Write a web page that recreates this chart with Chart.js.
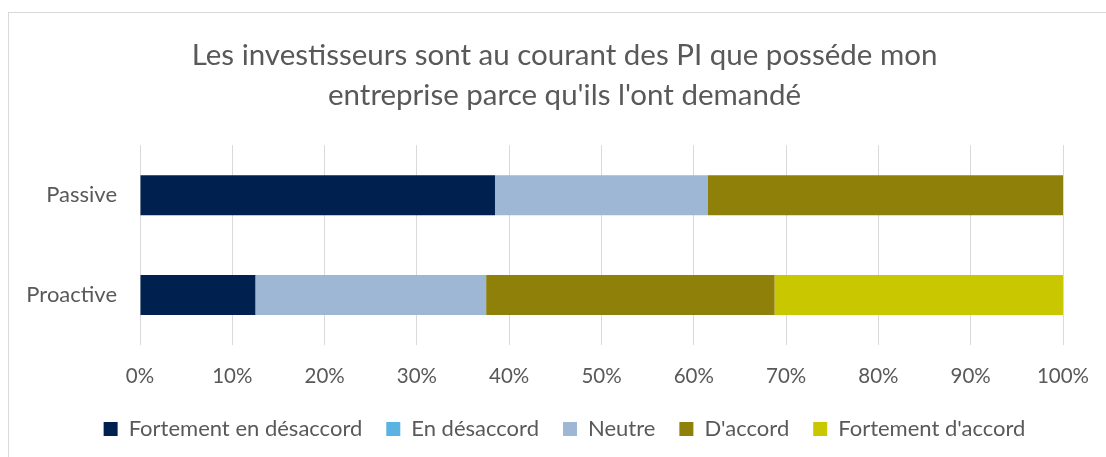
<!DOCTYPE html>
<html>
<head>
<meta charset="utf-8">
<script src="https://cdn.jsdelivr.net/npm/chart.js@4"></script>
<style>
  html, body { margin: 0; padding: 0; background: #fff; }
  #wrap { position: relative; width: 1106px; height: 457px; overflow: hidden; }
  #frame { position: absolute; left: 8px; top: 12px; width: 1200px; height: 600px; border: 1px solid #d9d9d9; box-sizing: border-box; }
  #chart { position: absolute; left: 0; top: 0; }
</style>
</head>
<body>
<div id="wrap">
  <div id="frame"></div>
  <canvas id="chart" width="1106" height="457"></canvas>
</div>
<script>
// données (en %)
const categories = ["Passive", "Proactive"];
const seriesNames = ["Fortement en désaccord", "En désaccord", "Neutre", "D'accord", "Fortement d'accord"];
const fortementDesaccord = [38.46, 12.5];
const desaccord = [0, 0];
const neutre = [23.08, 25];
const accord = [38.46, 31.25];
const fortementAccord = [0, 31.25];
const xTicks = [0, 10, 20, 30, 40, 50, 60, 70, 80, 90, 100];
const couleurs = ["#002050", "#5bb3e1", "#9db7d5", "#8f800a", "#c9c800"];

const TXT = "#595959";
const FONT = "Lato, 'Open Sans', sans-serif";

const valeurs = [fortementDesaccord, desaccord, neutre, accord, fortementAccord];
const datasets = seriesNames.map((nom, i) => ({
  label: nom,
  data: valeurs[i],
  backgroundColor: couleurs[i],
  borderWidth: 0,
  barPercentage: 0.4,
  categoryPercentage: 1,
}));

new Chart(document.getElementById("chart").getContext("2d"), {
  type: "bar",
  data: { labels: categories, datasets },
  options: {
    indexAxis: "y",
    responsive: false,
    animation: false,
    // marge droite négative : recentre titre et légende comme dans l'original
    layout: { padding: { left: 20, right: -3, top: 0, bottom: 7 } },
    scales: {
      x: {
        stacked: true,
        min: 0,
        max: 100,
        afterBuildTicks: (s) => { s.ticks = xTicks.map((v) => ({ value: v })); },
        ticks: { color: TXT, font: { family: FONT, size: 20.5 }, padding: 19, callback: (v) => v + "%" },
        grid: { color: "#d9d9d9", lineWidth: 1, drawTicks: false },
        border: { display: false },
        afterFit: (s) => { s.height = 49; s.paddingRight = 43; s.paddingLeft = 0; },
      },
      y: {
        stacked: true,
        ticks: { color: TXT, font: { family: FONT, size: 22 }, padding: 23 },
        grid: { display: false, drawTicks: false },
        border: { display: false },
        afterFit: (s) => { s.width = 120; },
      },
    },
    plugins: {
      title: {
        display: true,
        text: ["Les investisseurs sont au courant des PI que posséde mon", "entreprise parce qu'ils l'ont demandé"],
        color: TXT,
        font: { family: FONT, size: 29.5, weight: "normal", lineHeight: 1.36 },
        padding: { top: 35, bottom: 30 },
      },
      legend: {
        position: "bottom",
        labels: { color: TXT, font: { family: FONT, size: 22 }, boxWidth: 14, boxHeight: 14, padding: 24 },
      },
      tooltip: { enabled: false },
    },
  },
});
</script>
</body>
</html>
